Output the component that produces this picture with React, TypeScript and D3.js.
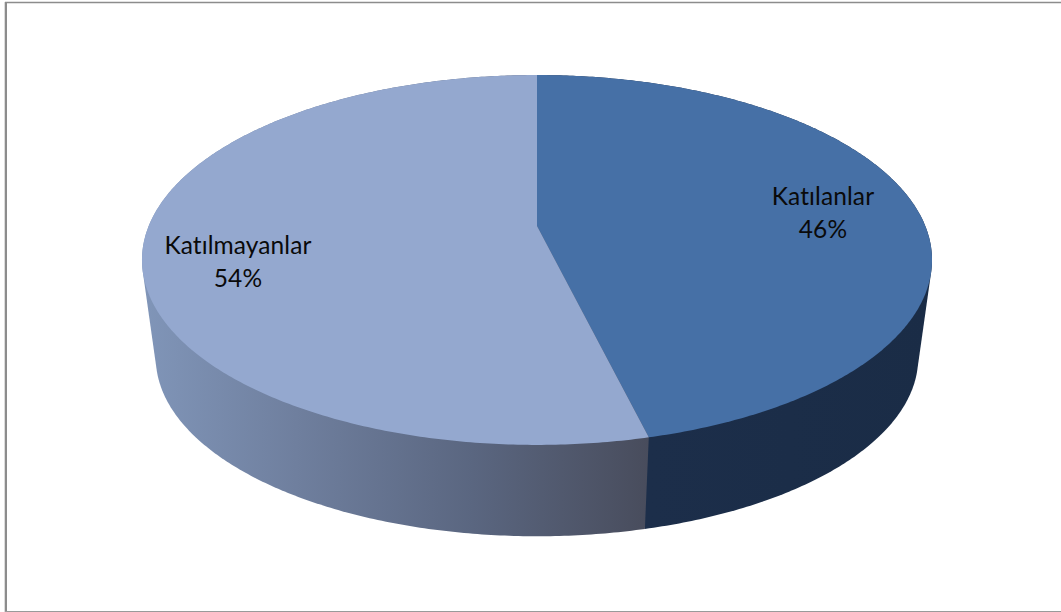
import React from "react";
import * as d3 from "d3";

const categories = ["Katılanlar", "Katılmayanlar"];
const values = [46.2, 53.8];
const percentLabels = ["46%", "54%"];
const topColors = ["#4670a6", "#94a8cf"];

const W = 1061;
const H = 612;
const apexX = 537;
const apexY = 226;
const k = 0.1837;
const A = 178.7;
const B = 388.3;
const depthScale = 0.965;
const floorY = 325;

// Perspective view of a flat disc: the far edge is compressed, the near edge stretched.
const project = (angle: number, scale = 1, cy = apexY): [number, number] => {
  const den = 1 + k * Math.cos(angle);
  return [apexX + (scale * B * Math.sin(angle)) / den, cy - (scale * A * Math.cos(angle)) / den];
};

const line = d3.line();

const sampleAngles = (a0: number, a1: number) => {
  const n = Math.max(8, Math.ceil((a1 - a0) / 0.01));
  return d3.range(n + 1).map((i) => a0 + ((a1 - a0) * i) / n);
};

export default function App() {
  const arcs = d3.pie<number>().sort(null).value((d) => d)(values);
  const labelPos: [number, number][] = [
    [823, 205],
    [238, 254],
  ];
  return (
    <svg
      width={W}
      height={H}
      viewBox={`0 0 ${W} ${H}`}
      style={{ position: "absolute", left: 0, top: 0, display: "block", background: "#fff" }}
    >
      <defs>
        <linearGradient id="sideB" gradientUnits="userSpaceOnUse" x1={145} x2={650} y1={0} y2={0}>
          <stop offset="0" stopColor="#8095b8" />
          <stop offset="0.3" stopColor="#6f7f9e" />
          <stop offset="0.65" stopColor="#5a6680" />
          <stop offset="1" stopColor="#484c5c" />
        </linearGradient>
        <linearGradient id="sideA" gradientUnits="userSpaceOnUse" x1={650} x2={930} y1={0} y2={0}>
          <stop offset="0" stopColor="#1c2e4a" />
          <stop offset="1" stopColor="#1a2c46" />
        </linearGradient>
      </defs>
      <line x1={4.5} x2={4.5} y1={2} y2={612} stroke="#dcdcdc" strokeWidth={1} />
      <line x1={6} x2={6} y1={2} y2={612} stroke="#8c8c8c" strokeWidth={2} />
      <line x1={5} x2={1061} y1={2.5} y2={2.5} stroke="#8c8c8c" strokeWidth={1.5} />
      <line x1={5} x2={1061} y1={611.5} y2={611.5} stroke="#9a9a9a" strokeWidth={1.2} />

      {arcs.map((a, i) => {
        const angles = sampleAngles(a.startAngle, a.endAngle);
        const pts: [number, number][] = [
          ...angles.map((t) => project(t)),
          ...angles.map((t) => project(t, depthScale, floorY)),
        ];
        const hull = d3.polygonHull(pts) ?? [];
        return (
          <path
            key={`side-${i}`}
            d={(line(hull) ?? "") + "Z"}
            fill={i === 0 ? "url(#sideA)" : "url(#sideB)"}
          />
        );
      })}

      {arcs.map((a, i) => {
        const pts: [number, number][] = [
          [apexX, apexY],
          ...sampleAngles(a.startAngle, a.endAngle).map((t) => project(t)),
        ];
        return <path key={`top-${i}`} d={(line(pts) ?? "") + "Z"} fill={topColors[i]} />;
      })}

      {categories.map((c, i) => (
        <text
          key={c}
          textAnchor="middle"
          fontFamily="Lato, 'Open Sans', sans-serif"
          fontSize={24.5}
          letterSpacing={0.1}
          fill="#0a0a0a"
        >
          <tspan x={labelPos[i][0]} y={labelPos[i][1]}>{c}</tspan>
          <tspan x={labelPos[i][0]} y={labelPos[i][1] + 33}>{percentLabels[i]}</tspan>
        </text>
      ))}
    </svg>
  );
}
